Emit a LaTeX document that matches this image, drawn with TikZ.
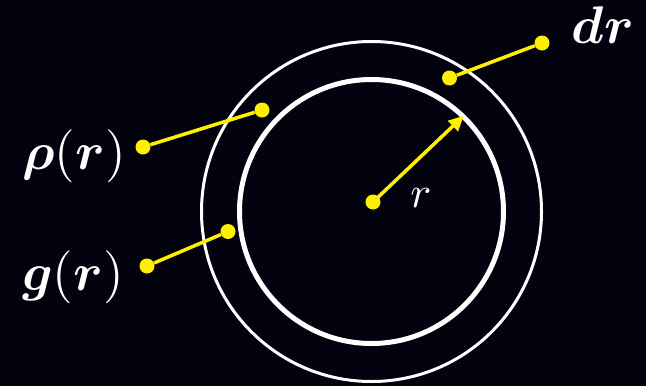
\documentclass[tikz,border=0pt]{standalone}
\usepackage{amsmath,bm}
\usetikzlibrary{arrows.meta}
\definecolor{bg}{RGB}{3,3,16}
\definecolor{ylw}{RGB}{255,240,0}
\tikzset{
  dot/.style={circle, fill=ylw, inner sep=0pt, minimum size=15pt},
  yline/.style={draw=ylw, line width=3.5pt},
  lab/.style={text=white, inner sep=0pt, scale=4.4},
  blab/.style={text=white, inner sep=0pt, scale=5.3},
}
\begin{document}
\begin{tikzpicture}[x=1pt,y=-1pt]
\fill[bg] (0,0) rectangle (646,386);
\useasboundingbox (0,0) rectangle (646,386);
\coordinate (C) at (371.5,211.5);
\draw[white, line width=3pt] (C) circle [radius=170pt];
\draw[white, line width=5pt] (C) circle [radius=132pt];
% center and arrow
\node[dot] (o) at (373,202) {};
\coordinate (tip) at (463,116.5);
\draw[yline, -{Triangle[length=15pt,width=14pt]}, shorten >=-1pt] (o.center) -- (tip);
% leader dots
\node[dot] (rhoA) at (143,147) {};
\node[dot] (rhoB) at (262,110) {};
\node[dot] (gA) at (147,266) {};
\node[dot] (gB) at (228,231.5) {};
\node[dot] (drA) at (449.5,78) {};
\node[dot] (drB) at (542,43) {};
\draw[yline] (rhoA) -- (rhoB);
\draw[yline] (gA) -- (gB);
\draw[yline] (drA) -- (drB);
% labels
\node[blab] (rho) at (74,156) {$\bm{\rho}(\bm{r})$};
\node[blab] (g) at (73,277) {$\bm{g}(\bm{r})$};
\node[blab, anchor=base] (dr) at (603,43) {$\bm{d}\bm{r}$};
\node[lab, anchor=base] (r) at (421,207) {$r$};
\end{tikzpicture}
\end{document}
